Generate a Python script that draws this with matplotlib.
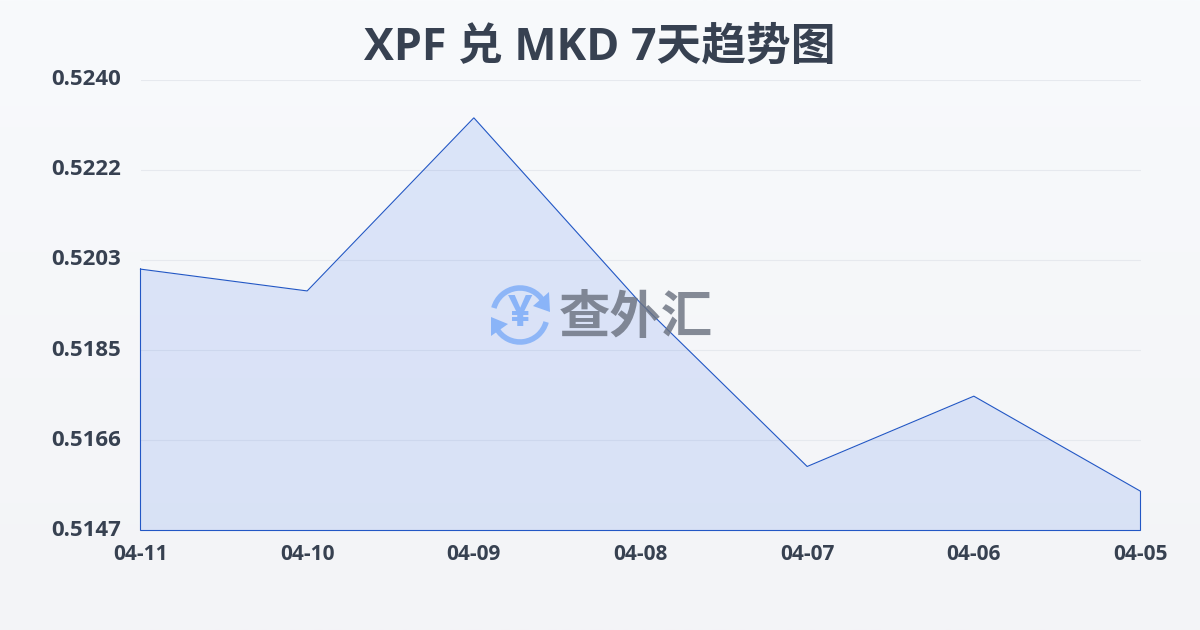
import numpy as np
import matplotlib
matplotlib.use('Agg')
import matplotlib.pyplot as plt
from matplotlib.patches import Arc, Polygon

plt.rcParams['font.family'] = ['Noto Sans CJK SC', 'DejaVu Sans']

dates = ['04-11', '04-10', '04-09', '04-08', '04-07', '04-06', '04-05']
rates = [0.52009, 0.51964, 0.52321, 0.51939, 0.51602, 0.51747, 0.51551]
y_ticks = [0.5240, 0.52214, 0.52028, 0.51842, 0.51656, 0.5147]
y_labels = ['0.5240', '0.5222', '0.5203', '0.5185', '0.5166', '0.5147']
title = 'XPF 兑 MKD 7天趋势图'
watermark = '查外汇'

W, H = 1200, 630
fig = plt.figure(figsize=(W / 100, H / 100), dpi=100)

# background gradient
bg = fig.add_axes([0, 0, 1, 1], zorder=0)
top = np.array([248, 250, 252]) / 255
bottom = np.array([243, 244, 247]) / 255
t = np.linspace(0, 1, 256)[:, None, None]
bg.imshow(top * (1 - t) + bottom * t, aspect='auto', extent=[0, 1, 0, 1])
bg.axis('off')

# plot area is x 140-1140, y 80-530 in pixels
ax = fig.add_axes([140.5 / W, 1 - 530.5 / H, 1000 / W, 451 / H], zorder=1)
ax.patch.set_alpha(0)
x = np.arange(len(dates))
ax.fill_between(x, rates, 0.5147, color='#2563eb', alpha=0.13, lw=0)
ax.plot(list(x) + [x[-1], x[0], x[0]], rates + [0.5147, 0.5147, rates[0]],
        color='#2257c5', lw=0.8, solid_joinstyle='miter', clip_on=False)
ax.set_xlim(0, len(dates) - 1)
ax.set_ylim(0.5147, 0.5240)
ax.set_yticks(y_ticks)
ax.set_yticklabels(y_labels)
ax.set_xticks(x)
ax.set_xticklabels(dates)
ax.grid(axis='y', color='#e6e9ee', lw=0.8)
ax.set_axisbelow(True)
for s in ax.spines.values():
    s.set_visible(False)
ax.tick_params(axis='both', length=0)
ax.tick_params(axis='y', pad=13.7, labelsize=16, labelcolor='#374151')
ax.tick_params(axis='x', pad=10, labelsize=15, labelcolor='#374151')
for lab in ax.get_yticklabels():
    lab.set_fontfamily(['Open Sans', 'DejaVu Sans'])
    lab.set_fontweight('bold')
    lab.set_verticalalignment('center')
for lab in ax.get_xticklabels():
    lab.set_fontfamily(['Open Sans', 'DejaVu Sans'])
    lab.set_fontweight('bold')

fig.text(0.5, 1 - 48 / H, title, ha='center', va='center', fontsize=32.2,
         fontweight='bold', color='#374151', zorder=5,
         family=['Open Sans', 'Noto Sans CJK SC'])

# watermark logo, overlay in pixel coordinates
ov = fig.add_axes([0, 0, 1, 1], zorder=4)
ov.set_xlim(0, W)
ov.set_ylim(H, 0)
ov.axis('off')
blue = '#8ab4f8'
cx, cy = 520, 315
ov.add_patch(Arc((cx, cy), 54, 54, theta1=195, theta2=330, color=blue, lw=4, alpha=0.95))
ov.add_patch(Arc((cx, cy), 54, 54, theta1=15, theta2=150, color=blue, lw=4, alpha=0.95))
ov.add_patch(Polygon([[549, 292], [550, 312], [533, 306]], color=blue, lw=0))
ov.add_patch(Polygon([[491, 317], [508, 324], [491, 336]], color=blue, lw=0))
ov.text(cx, cy - 1, '¥', ha='center', va='center', fontsize=31, fontweight='bold',
        color=blue, family=['Open Sans'])
ov.text(636, 318, watermark, ha='center', va='center', fontsize=37, fontweight='bold',
        color='#6b7280', alpha=0.82)

fig.savefig('out.png', dpi=100)
